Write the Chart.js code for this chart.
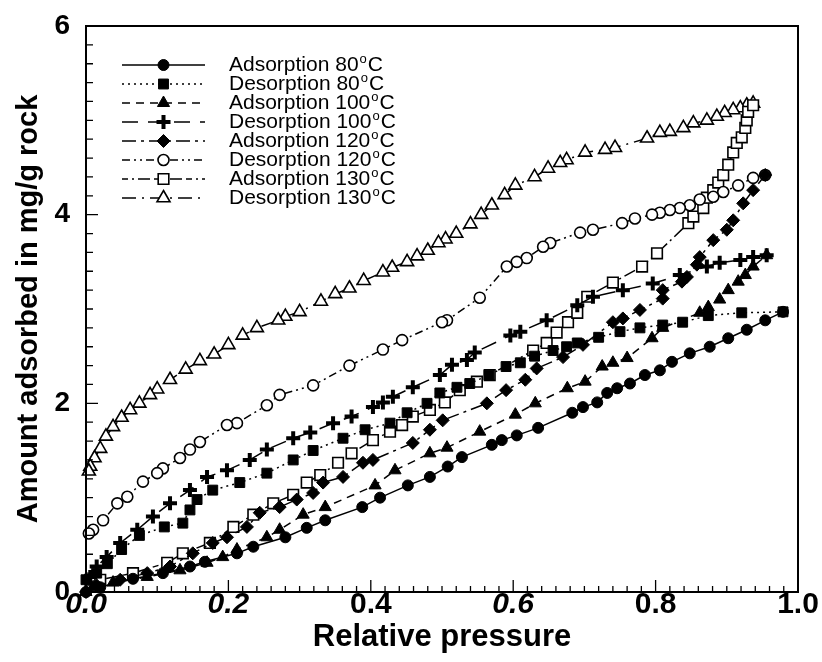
<!DOCTYPE html>
<html>
<head>
<meta charset="utf-8">
<script src="https://cdn.jsdelivr.net/npm/chart.js@4.4.1/dist/chart.umd.min.js"></script>
<style>
  html, body { margin: 0; padding: 0; background: #fff; }
</style>
</head>
<body>
<canvas id="myChart" width="822" height="662"></canvas>
<script>
// series labels
var seriesLabels = ['Adsorption 80°C', 'Desorption 80°C', 'Adsorption 100°C', 'Desorption 100°C',
                    'Adsorption 120°C', 'Desorption 120°C', 'Adsorption 130°C', 'Desorption 130°C'];

// [relative pressure, amount adsorbed]
var ads80 = [[0,0],[0.02,0.05],[0.066,0.14],[0.108,0.2],[0.146,0.27],[0.167,0.32],[0.212,0.41],[0.235,0.48],
  [0.28,0.58],[0.31,0.68],[0.336,0.76],[0.388,0.9],[0.413,1.0],[0.452,1.13],[0.483,1.22],[0.508,1.33],[0.528,1.43],
  [0.57,1.56],[0.584,1.61],[0.605,1.66],[0.635,1.74],[0.683,1.9],[0.698,1.96],[0.718,2.01],[0.732,2.11],[0.746,2.16],
  [0.764,2.21],[0.785,2.3],[0.806,2.35],[0.823,2.44],[0.848,2.53],[0.876,2.6],[0.902,2.69],[0.928,2.78],[0.954,2.88],[0.979,2.97]];

var des80 = [[0.979,2.97],[0.921,2.96],[0.874,2.93],[0.838,2.86],[0.81,2.83],[0.778,2.8],[0.75,2.76],[0.72,2.7],
  [0.69,2.64],[0.675,2.6],[0.656,2.56],[0.63,2.5],[0.61,2.43],[0.59,2.39],[0.566,2.3],[0.539,2.21],[0.521,2.17],
  [0.497,2.11],[0.479,2.0],[0.451,1.9],[0.427,1.79],[0.392,1.72],[0.361,1.63],[0.319,1.5],[0.291,1.4],[0.254,1.26],
  [0.216,1.16],[0.178,1.08],[0.156,0.98],[0.146,0.87],[0.136,0.73],[0.11,0.69],[0.075,0.6],[0.05,0.45],[0.03,0.3],
  [0.015,0.2],[0.0,0.13]];

var ads100 = [[0,0],[0.01,0.05],[0.038,0.1],[0.086,0.16],[0.132,0.23],[0.17,0.31],[0.192,0.37],[0.212,0.45],
  [0.254,0.58],[0.272,0.66],[0.305,0.82],[0.336,0.9],[0.406,1.13],[0.434,1.29],[0.483,1.47],[0.507,1.53],[0.553,1.7],
  [0.603,1.88],[0.631,2.0],[0.676,2.16],[0.701,2.23],[0.725,2.39],[0.74,2.43],[0.76,2.48],[0.795,2.69],[0.81,2.8],
  [0.862,2.96],[0.874,3.02],[0.89,3.1],[0.902,3.2],[0.916,3.29],[0.926,3.36],[0.937,3.45],[0.956,3.57]];

var des100 = [[0.956,3.57],[0.937,3.55],[0.919,3.52],[0.89,3.49],[0.872,3.45],[0.834,3.36],[0.796,3.27],[0.754,3.2],
  [0.712,3.13],[0.69,3.04],[0.647,2.88],[0.61,2.76],[0.596,2.72],[0.546,2.54],[0.535,2.46],[0.514,2.41],[0.497,2.3],
  [0.459,2.17],[0.431,2.07],[0.417,2.01],[0.403,1.96],[0.373,1.86],[0.347,1.79],[0.315,1.69],[0.291,1.63],[0.254,1.51],
  [0.23,1.4],[0.198,1.29],[0.17,1.22],[0.146,1.08],[0.118,0.94],[0.094,0.8],[0.072,0.66],[0.048,0.52],[0.029,0.37],
  [0.015,0.27],[0.006,0.16]];

var ads120 = [[0,0],[0.015,0.07],[0.048,0.13],[0.086,0.2],[0.118,0.27],[0.15,0.41],[0.178,0.52],[0.198,0.58],
  [0.226,0.69],[0.244,0.84],[0.272,0.9],[0.296,0.98],[0.319,1.05],[0.333,1.16],[0.361,1.22],[0.389,1.37],[0.403,1.4],
  [0.459,1.58],[0.483,1.72],[0.501,1.82],[0.563,2.0],[0.59,2.14],[0.617,2.25],[0.633,2.37],[0.67,2.49],[0.698,2.62],
  [0.74,2.86],[0.754,2.9],[0.778,2.99],[0.81,3.11],[0.81,3.2],[0.837,3.29],[0.844,3.34],[0.858,3.47],[0.862,3.55],
  [0.881,3.73],[0.9,3.84],[0.909,3.94],[0.923,4.12],[0.937,4.26],[0.954,4.42]];

var des120 = [[0.954,4.42],[0.937,4.39],[0.916,4.31],[0.895,4.24],[0.881,4.19],[0.862,4.16],[0.848,4.1],[0.834,4.07],
  [0.82,4.05],[0.806,4.02],[0.795,4.0],[0.771,3.96],[0.753,3.91],[0.712,3.84],[0.694,3.81],[0.652,3.7],[0.642,3.66],
  [0.619,3.54],[0.605,3.5],[0.591,3.45],[0.553,3.12],[0.507,2.88],[0.5,2.86],[0.444,2.67],[0.417,2.57],[0.37,2.4],
  [0.319,2.19],[0.272,2.09],[0.254,1.98],[0.212,1.79],[0.198,1.77],[0.16,1.59],[0.146,1.51],[0.132,1.42],[0.108,1.31],
  [0.1,1.26],[0.08,1.17],[0.058,1.01],[0.044,0.94],[0.024,0.76],[0.01,0.66],[0.004,0.62]];

var ads130 = [[0.006,0.13],[0.02,0.13],[0.066,0.2],[0.114,0.31],[0.136,0.41],[0.174,0.52],[0.207,0.69],[0.235,0.82],
  [0.263,0.94],[0.291,1.03],[0.31,1.16],[0.329,1.24],[0.354,1.37],[0.373,1.47],[0.403,1.61],[0.427,1.7],[0.444,1.77],
  [0.459,1.86],[0.483,1.93],[0.504,2.01],[0.525,2.14],[0.549,2.23],[0.567,2.3],[0.628,2.56],[0.647,2.64],[0.661,2.75],
  [0.677,2.86],[0.69,2.96],[0.704,3.13],[0.74,3.28],[0.781,3.45],[0.802,3.59],[0.846,3.91],[0.853,3.98],[0.867,4.07],
  [0.872,4.18],[0.881,4.26],[0.888,4.34],[0.895,4.42],[0.902,4.53],[0.909,4.66],[0.914,4.76],[0.921,4.82],[0.926,4.92],
  [0.928,5.0],[0.93,5.09],[0.937,5.16]];

var des130 = [[0.937,5.18],[0.928,5.16],[0.919,5.13],[0.909,5.11],[0.897,5.08],[0.886,5.04],[0.872,5.0],[0.853,4.97],
  [0.839,4.92],[0.82,4.88],[0.806,4.87],[0.788,4.81],[0.743,4.71],[0.729,4.69],[0.701,4.66],[0.675,4.58],[0.666,4.55],
  [0.649,4.49],[0.63,4.4],[0.603,4.31],[0.588,4.21],[0.57,4.1],[0.555,4.0],[0.54,3.9],[0.52,3.8],[0.505,3.74],
  [0.495,3.7],[0.48,3.62],[0.465,3.56],[0.451,3.5],[0.43,3.44],[0.417,3.39],[0.39,3.3],[0.37,3.22],[0.35,3.16],
  [0.33,3.08],[0.3,2.97],[0.28,2.92],[0.27,2.88],[0.24,2.8],[0.22,2.72],[0.2,2.62],[0.18,2.52],[0.16,2.45],[0.14,2.36],
  [0.118,2.25],[0.1,2.15],[0.09,2.09],[0.075,2.0],[0.062,1.93],[0.05,1.85],[0.038,1.75],[0.028,1.65],[0.02,1.52],
  [0.012,1.42],[0.006,1.33],[0.004,1.28]];

var allSeries = [ads80, des80, ads100, des100, ads120, des120, ads130, des130];

// axis ticks
var xTickValues = [0, 0.2, 0.4, 0.6, 0.8, 1.0];
var yTickValues = [0, 2, 4, 6];
var xItalicTicks = [0, 0.2, 0.6];

var FONT = '"Liberation Sans", Arial, sans-serif';

// line / marker styles per series
var styles = [
  { dash: [],                 point: 'circle',   radius: 5.5, fill: '#000', pw: 1 },
  { dash: [2, 4],             point: 'rect',     radius: 7,   fill: '#000', pw: 1 },
  { dash: [8, 6],             point: 'triangle', radius: 7,   fill: '#000', pw: 1 },
  { dash: [16, 10],           point: 'cross',    radius: 7,   fill: '#000', pw: 4 },
  { dash: [14, 5, 3, 5],      point: 'rectRot',  radius: 6.5, fill: '#000', pw: 1 },
  { dash: [8, 4, 2, 4, 2, 4], point: 'circle',   radius: 5.5, fill: '#fff', pw: 1.6 },
  { dash: [6, 4, 2, 4, 12, 4],point: 'rect',     radius: 7.5, fill: '#fff', pw: 1.6 },
  { dash: [14, 6, 2, 6],      point: 'triangle', radius: 7.5, fill: '#fff', pw: 1.6 }
];

function makeDatasets() {
  var out = [];
  for (var i = 0; i < allSeries.length; i++) {
    var s = styles[i];
    out.push({
      label: seriesLabels[i],
      data: allSeries[i].map(function(p) { return { x: p[0], y: p[1] }; }),
      showLine: true,
      borderColor: '#000',
      borderWidth: 1.5,
      borderDash: s.dash,
      pointStyle: s.point,
      pointRadius: s.radius,
      pointBackgroundColor: s.fill,
      pointBorderColor: '#000',
      pointBorderWidth: s.pw,
      clip: false
    });
  }
  return out;
}

// frame and inward tick marks
var frameTicks = {
  id: 'frameTicks',
  afterDatasetsDraw: function(chart) {
    var ctx = chart.ctx, a = chart.chartArea, xs = chart.scales.x, ys = chart.scales.y;
    ctx.save();
    ctx.strokeStyle = '#000';
    ctx.lineWidth = 2;
    ctx.strokeRect(a.left, a.top, a.right - a.left, a.bottom - a.top);
    ctx.lineWidth = 1.3;
    ctx.beginPath();
    for (var i = 0; i <= 50; i++) {
      var px = xs.getPixelForValue(i / 50);
      var len = (i % 10 === 0) ? 12 : 6;
      ctx.moveTo(px, a.bottom);
      ctx.lineTo(px, a.bottom - len);
    }
    for (var j = 0; j <= 30; j++) {
      var py = ys.getPixelForValue(j / 5);
      var len2 = (j % 10 === 0) ? 12 : 7;
      ctx.moveTo(a.left, py);
      ctx.lineTo(a.left + len2, py);
    }
    ctx.stroke();
    ctx.restore();
  }
};

// legend inside the plot, top left
var insideLegend = {
  id: 'insideLegend',
  afterDatasetsDraw: function(chart) {
    var ctx = chart.ctx, a = chart.chartArea;
    chart.data.datasets.forEach(function(ds, i) {
      var y = a.top + 39 + i * 19;
      var x0 = a.left + 36, x1 = a.left + 119, xm = (x0 + x1) / 2;
      ctx.save();
      ctx.strokeStyle = '#000';
      ctx.lineWidth = ds.borderWidth;
      ctx.setLineDash(ds.borderDash);
      ctx.beginPath();
      ctx.moveTo(x0, y);
      ctx.lineTo(x1, y);
      ctx.stroke();
      ctx.setLineDash([]);
      ctx.fillStyle = ds.pointBackgroundColor;
      ctx.lineWidth = ds.pointBorderWidth;
      Chart.helpers.drawPoint(ctx, { pointStyle: ds.pointStyle, radius: ds.pointRadius, rotation: 0, borderWidth: ds.pointBorderWidth }, xm, y);

      // label with a raised "o" for the degree sign
      var parts = ds.label.split('°');
      var tx = a.left + 143;
      ctx.fillStyle = '#000';
      ctx.textBaseline = 'middle';
      ctx.font = '21px ' + FONT;
      ctx.fillText(parts[0], tx, y);
      tx += ctx.measureText(parts[0]).width + 1;
      ctx.font = '13px ' + FONT;
      ctx.fillText('o', tx, y - 6);
      tx += ctx.measureText('o').width + 1;
      ctx.font = '21px ' + FONT;
      ctx.fillText(parts[1], tx, y);
      ctx.restore();
    });
  }
};

function init() {
  var ctx = document.getElementById('myChart').getContext('2d');
  var chart = new Chart(ctx, {
    type: 'scatter',
    data: { datasets: makeDatasets() },
    options: {
      responsive: false,
      animation: false,
      layout: { padding: { top: 26, right: 24, left: 0, bottom: 0 } },
      plugins: { legend: { display: false }, tooltip: { enabled: false } },
      scales: {
        x: {
          type: 'linear', min: 0, max: 1,
          grid: { display: false },
          border: { display: false },
          afterBuildTicks: function(scale) { scale.ticks = xTickValues.map(function(v) { return { value: v }; }); },
          afterFit: function(scale) { scale.height = 70; },
          ticks: {
            color: '#000', padding: -13,
            callback: function(v) { return v.toFixed(1); },
            font: function(c) {
              var it = c.tick && xItalicTicks.indexOf(c.tick.value) >= 0;
              return { family: FONT, size: 30, weight: 'bold', style: it ? 'italic' : 'normal' };
            }
          },
          title: {
            display: true, text: 'Relative pressure', color: '#000',
            font: { family: FONT, size: 31, weight: 'bold' },
            padding: { top: 0, bottom: 6 }
          }
        },
        y: {
          type: 'linear', min: 0, max: 6,
          grid: { display: false },
          border: { display: false },
          afterBuildTicks: function(scale) { scale.ticks = yTickValues.map(function(v) { return { value: v }; }); },
          afterFit: function(scale) { scale.width = 86; },
          ticks: {
            color: '#000', padding: 8,
            font: { family: FONT, size: 28, weight: 'bold' }
          },
          title: {
            display: true, text: 'Amount adsorbed in mg/g rock', color: '#000',
            font: { family: FONT, size: 29, weight: 'bold' },
            padding: { top: 12, bottom: 0 }
          }
        }
      }
    },
    plugins: [frameTicks, insideLegend]
  });
}

init();
</script>
</body>
</html>
